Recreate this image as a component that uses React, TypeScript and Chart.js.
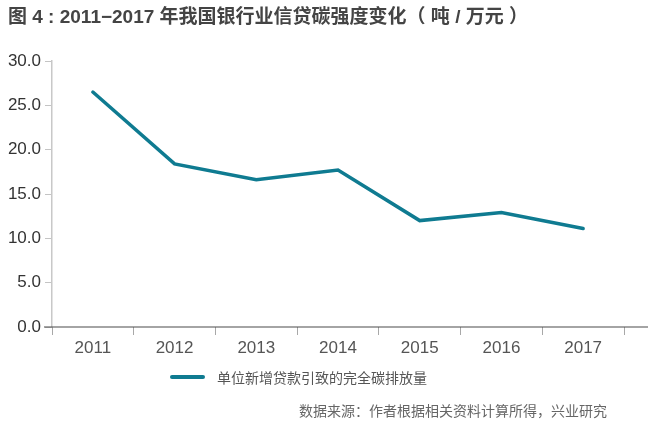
import React, { useEffect, useRef } from "react";
import { Chart, registerables } from "chart.js";

Chart.register(...registerables);

const title = "图 4 : 2011−2017 年我国银行业信贷碳强度变化（ 吨 / 万元 ）";
const categories = ["2011", "2012", "2013", "2014", "2015", "2016", "2017"];
const seriesName = "单位新增贷款引致的完全碳排放量";
const seriesValues = [26.5, 18.4, 16.6, 17.7, 12.0, 12.9, 11.1];
const yTicks = [0, 5, 10, 15, 20, 25, 30];
const source = "数据来源：作者根据相关资料计算所得，兴业研究";

const LINE_COLOR = "#0f7b91";
const FONT = "'Liberation Sans', Arial, sans-serif";
const CJK = "'Noto Sans CJK SC', 'Liberation Sans', sans-serif";
const TITLE_FONT = "'Liberation Sans', 'Noto Sans CJK SC', sans-serif";

const baselinePlugin = {
  id: "baseline",
  afterDraw(chart: any) {
    const { ctx, scales } = chart;
    const y = scales.y.getPixelForValue(0);
    const left = scales.y.right - 8;
    ctx.save();
    ctx.strokeStyle = "#4a4a4a";
    ctx.lineWidth = 1.2;
    ctx.beginPath();
    ctx.moveTo(left, y);
    ctx.lineTo(chart.width, y);
    ctx.stroke();
    ctx.restore();
  },
};

export default function App() {
  const ref = useRef<HTMLCanvasElement>(null);
  useEffect(() => {
    if (!ref.current) return;
    const chart = new Chart(ref.current, {
      type: "line",
      data: {
        labels: categories,
        datasets: [
          {
            label: seriesName,
            data: seriesValues,
            borderColor: LINE_COLOR,
            backgroundColor: LINE_COLOR,
            borderWidth: 3.5,
            pointRadius: 0,
            tension: 0,
            borderCapStyle: "round",
            borderJoinStyle: "miter",
          },
        ],
      },
      options: {
        responsive: false,
        animation: false,
        layout: { padding: { left: 0, top: 61, right: 24, bottom: 73 } },
        plugins: {
          legend: { display: false },
          title: { display: false },
          tooltip: { enabled: false },
        },
        scales: {
          x: {
            type: "category",
            offset: true,
            afterFit: (s: any) => {
              s.height = 30;
            },
            grid: {
              offset: true,
              drawOnChartArea: false,
              tickLength: 8,
              tickColor: "#a8a8a8",
              tickWidth: 1,
            },
            border: { display: false },
            ticks: {
              color: "#555555",
              font: { family: FONT, size: 17 },
              padding: 3,
            },
          },
          y: {
            min: 0,
            max: 30,
            afterFit: (s: any) => {
              s.width = 52;
            },
            afterBuildTicks: (s: any) => {
              s.ticks = yTicks.map((v) => ({ value: v }));
            },
            grid: {
              drawOnChartArea: false,
              tickLength: 7,
              tickColor: "#c4c4c4",
            },
            border: { display: true, color: "#c8c8c8", width: 1.5 },
            ticks: {
              color: "#333333",
              font: { family: FONT, size: 17 },
              padding: 4,
              callback: (v: any) => Number(v).toFixed(1),
            },
          },
        },
      },
      plugins: [baselinePlugin],
    });
    return () => chart.destroy();
  }, []);

  return (
    <div
      style={{
        position: "absolute",
        left: 0,
        top: 0,
        width: 648,
        height: 430,
        background: "#ffffff",
        overflow: "hidden",
      }}
    >
      <canvas ref={ref} width={648} height={430} style={{ position: "absolute", left: 0, top: 0 }} />
      <div
        style={{
          position: "absolute",
          left: 8,
          top: 5,
          fontFamily: TITLE_FONT,
          fontSize: 19,
          fontWeight: "bold",
          color: "#444444",
          whiteSpace: "nowrap",
          lineHeight: "24px",
        }}
      >
        {title}
      </div>
      <div
        style={{
          position: "absolute",
          left: 170,
          top: 366,
          height: 22,
          display: "flex",
          alignItems: "center",
          whiteSpace: "nowrap",
        }}
      >
        <span
          style={{
            display: "inline-block",
            width: 35,
            height: 4,
            borderRadius: 2,
            background: LINE_COLOR,
            marginRight: 12,
          }}
        />
        <span style={{ fontFamily: CJK, fontSize: 14, color: "#555555" }}>{seriesName}</span>
      </div>
      <div
        style={{
          position: "absolute",
          right: 41,
          top: 399,
          fontFamily: CJK,
          fontSize: 14,
          color: "#666666",
          whiteSpace: "nowrap",
          lineHeight: "22px",
        }}
      >
        {source}
      </div>
    </div>
  );
}
